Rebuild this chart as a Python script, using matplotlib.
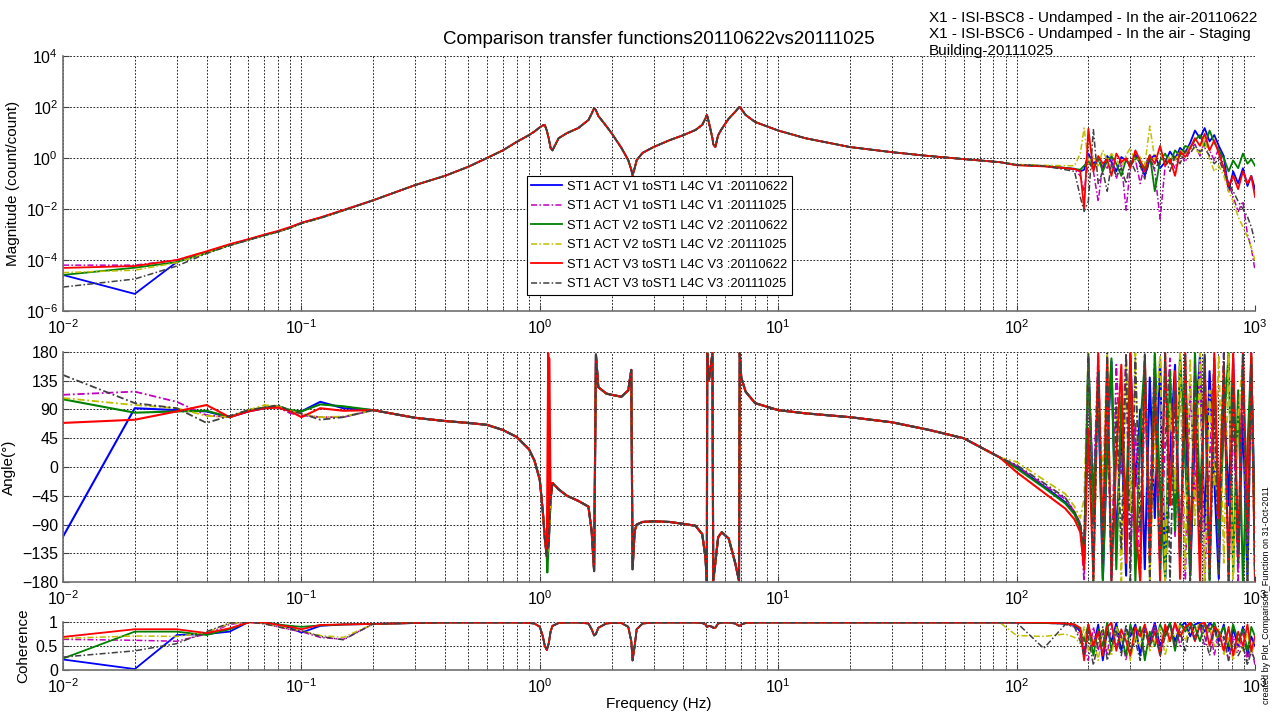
import numpy as np
import matplotlib
matplotlib.use('Agg')
import matplotlib.pyplot as plt
from matplotlib.ticker import LogLocator, FixedLocator, NullFormatter

plt.rcParams['font.family'] = ['Liberation Sans', 'DejaVu Sans']
plt.rcParams['mathtext.fontset'] = 'custom'
plt.rcParams['mathtext.rm'] = 'Liberation Sans'

# frequency grid (Hz)
freq_lo = [0.01, 0.02, 0.03, 0.04, 0.05, 0.06, 0.07, 0.08, 0.09, 0.1, 0.12, 0.15]
freq_mid = [0.2, 0.3, 0.4, 0.5, 0.6, 0.7, 0.8, 0.9, 0.95, 1.0, 1.03, 1.05, 1.07, 1.09, 1.11, 1.13,
            1.2, 1.3, 1.45, 1.6, 1.65, 1.69, 1.72, 1.76, 1.9, 2.0, 2.2, 2.35, 2.42, 2.45, 2.5, 2.55,
            2.7, 3.0, 3.5, 4.0, 4.5, 4.8, 4.95, 5.02, 5.04, 5.12, 5.3, 5.34, 5.45, 5.6, 5.8, 6.2,
            6.6, 6.85, 6.9, 7.0, 7.3, 8.0, 10, 13, 20, 30, 43, 60, 85]
freq_hi = [100, 130, 160, 175, 185, 192, 200, 210, 220, 230, 240, 250, 262, 275, 288, 300, 315,
           330, 345, 362, 380, 400, 420, 440, 462, 485, 510, 535, 560, 588, 615, 645, 675, 705,
           740, 775, 810, 850, 890, 930, 965, 1000]

# shared mid band (all six measurements overlap there)
mag_mid = [0.022, 0.087, 0.2, 0.45, 1.0, 2.0, 4.3, 7.9, 11, 16, 19, 19.5, 12, 6, 2.5, 2.0,
           6.0, 9.5, 15, 31, 55, 91, 75, 45, 18, 9.5, 2.5, 0.83, 0.35, 0.21, 0.4, 0.83,
           1.6, 2.7, 5.0, 7.9, 12.6, 20, 35, 49, 45, 25, 6, 3.5, 2.7, 7.9, 14, 35,
           65, 98, 100, 85, 49, 26, 12, 6.0, 2.7, 1.7, 1.2, 0.91, 0.69]
phase_mid = [89, 77, 72, 69, 66, 58, 47, 28, 10, -20, -70, -112, -140, -120, -50, -25,
             -35, -45, -53, -62, -100, -163, 176, 125, 115, 113, 110, 120, 152, -160, -100, -90,
             -86, -85, -86, -89, -92, -105, -140, -178, 178, 135, 178, -178, -150, -110, -102, -112,
             -150, -178, 178, 140, 118, 100, 89, 84, 78, 70, 58, 45, 15]
coh_mid = [0.96, 0.98, 0.99, 0.99, 0.99, 0.99, 0.99, 0.98, 0.97, 0.9, 0.7, 0.5, 0.42, 0.55, 0.8, 0.92,
           0.98, 0.99, 0.99, 0.97, 0.85, 0.72, 0.75, 0.88, 0.97, 0.98, 0.98, 0.9, 0.6, 0.2, 0.5, 0.85,
           0.97, 0.99, 0.99, 0.99, 0.99, 0.98, 0.95, 0.9, 0.9, 0.92, 0.9, 0.88, 0.88, 0.97, 0.99, 0.99,
           0.97, 0.92, 0.92, 0.95, 0.98, 0.99, 0.99, 0.99, 0.99, 0.99, 0.99, 0.99, 0.99]

labels = ['ST1 ACT V1 toST1 L4C V1 :20110622', 'ST1 ACT V1 toST1 L4C V1 :20111025',
          'ST1 ACT V2 toST1 L4C V2 :20110622', 'ST1 ACT V2 toST1 L4C V2 :20111025',
          'ST1 ACT V3 toST1 L4C V3 :20110622', 'ST1 ACT V3 toST1 L4C V3 :20111025']
colors = ['#0000ff', '#bf00bf', '#008000', '#bfbf00', '#ff0000', '#404040']
styles = ['-', (0, (4, 1.5, 1, 1.5)), '-', (0, (4, 1.5, 1, 1.5)), '-', (0, (4, 1.5, 1, 1.5))]

mag_lo = [
    [2.6e-5, 4.7e-6, 8.3e-5, 2.0e-4, 3.9e-4, 6.3e-4, 9.5e-4, 1.3e-3, 1.9e-3, 2.8e-3, 4.5e-3, 8.9e-3],
    [6.3e-5, 6.3e-5, 1.0e-4, 2.1e-4, 4.0e-4, 6.5e-4, 9.8e-4, 1.35e-3, 1.9e-3, 2.9e-3, 4.6e-3, 9.0e-3],
    [2.6e-5, 5.0e-5, 8.3e-5, 1.9e-4, 3.8e-4, 6.2e-4, 9.4e-4, 1.3e-3, 1.85e-3, 2.8e-3, 4.5e-3, 8.8e-3],
    [3.2e-5, 4.0e-5, 7.9e-5, 1.9e-4, 3.8e-4, 6.2e-4, 9.3e-4, 1.3e-3, 1.85e-3, 2.75e-3, 4.4e-3, 8.7e-3],
    [4.9e-5, 5.8e-5, 1.0e-4, 2.2e-4, 4.2e-4, 6.6e-4, 1.0e-3, 1.4e-3, 2.0e-3, 2.9e-3, 4.7e-3, 9.2e-3],
    [8.7e-6, 1.8e-5, 5.8e-5, 1.8e-4, 3.7e-4, 6.1e-4, 9.2e-4, 1.3e-3, 1.8e-3, 2.7e-3, 4.4e-3, 8.7e-3],
]
mag_hi = [
    [0.54, 0.49, 0.41, 0.38, 0.3, 0.35, 1.5, 0.6, 0.9, 0.4, 1.2, 0.7, 0.3, 1.1, 0.8, 0.5, 1.4, 0.6, 0.2,
     0.9, 1.3, 0.4, 0.7, 1.8, 0.9, 2.5, 1.6, 4.0, 12, 6.0, 15, 4.5, 8.0, 3.0, 1.2, 0.05, 0.3, 0.1,
     0.4, 0.08, 0.2, 0.06],
    [0.54, 0.49, 0.41, 0.36, 0.2, 0.05, 0.8, 0.3, 0.02, 0.6, 0.4, 1.1, 0.15, 0.7, 0.009, 0.5, 0.9, 0.1,
     0.6, 1.2, 0.3, 0.004, 0.5, 1.0, 0.4, 1.5, 0.7, 2.2, 3.5, 1.2, 5.0, 2.0, 0.8, 2.5, 0.5, 0.1, 0.03,
     0.008, 0.02, 0.001, 3e-4, 4e-5],
    [0.54, 0.49, 0.41, 0.37, 0.35, 0.5, 0.7, 0.4, 1.0, 0.3, 0.8, 1.2, 0.6, 0.2, 0.9, 0.5, 1.1, 0.7, 0.4,
     1.3, 0.05, 0.8, 1.5, 0.6, 2.0, 1.2, 3.0, 2.5, 5.0, 8.0, 3.0, 12, 4.0, 2.0, 1.0, 0.3, 0.8, 0.4,
     1.5, 0.6, 0.9, 0.5],
    [0.56, 0.52, 0.5, 0.5, 1.5, 15, 0.6, 1.2, 0.5, 2.0, 0.8, 1.5, 0.9, 0.4, 1.3, 2.5, 0.7, 1.1, 0.5,
     18, 0.9, 1.6, 0.6, 1.2, 0.8, 2.0, 1.4, 3.0, 2.2, 1.5, 6.0, 0.9, 0.3, 0.5, 0.2, 0.05, 0.02, 0.005,
     0.002, 8e-4, 3e-4, 1e-4],
    [0.52, 0.47, 0.4, 0.37, 0.3, 0.01, 14, 0.3, 1.2, 0.6, 0.9, 0.2, 1.5, 0.7, 1.0, 0.4, 2.0, 0.8, 0.3,
     1.3, 0.6, 3.0, 0.5, 0.9, 0.2, 1.8, 1.1, 2.5, 6.0, 3.0, 9.0, 2.0, 5.0, 1.5, 0.4, 0.08, 0.2, 0.06,
     0.3, 0.1, 0.2, 0.03],
    [0.54, 0.49, 0.35, 0.3, 0.03, 0.008, 0.02, 13, 0.1, 0.3, 0.05, 0.6, 0.2, 0.4, 0.1, 0.8, 0.3, 0.5,
     0.15, 0.9, 0.4, 0.7, 1.0, 0.3, 1.2, 0.6, 2.0, 1.5, 3.0, 1.8, 2.5, 1.2, 0.6, 0.9, 0.3, 0.1, 0.05,
     0.02, 0.01, 0.005, 0.002, 5e-4],
]

phase_lo = [
    [-109, 92, 89, 87, 78, 87, 92, 95, 88, 87, 102, 92],
    [113, 118, 102, 81, 78, 89, 93, 93, 84, 81, 78, 78],
    [106, 85, 87, 88, 78, 89, 93, 95, 89, 87, 98, 95],
    [108, 97, 92, 80, 78, 89, 97, 95, 88, 83, 78, 79],
    [69, 74, 87, 97, 78, 87, 92, 93, 87, 78, 92, 88],
    [144, 100, 92, 69, 80, 89, 93, 97, 87, 84, 74, 78],
]
phase_hi = [
    [0, -30, -55, -72, -92, -150, 170, -60, 120, -175, 30, 165, -120, 60, -170, 175, -30, 90, -160,
     140, -80, 170, -175, 20, 160, -140, 100, -170, 50, 175, -100, 150, -20, -175, 130, -60, 170,
     -150, 80, -178, 160, -90],
    [2, -28, -50, -70, -88, -178, 150, -40, 175, -130, 95, -170, 160, -10, 178, -150, 70, -178, 120,
     -60, 175, -165, 40, 170, -110, 178, -175, 130, -50, 165, -178, 10, 170, -140, 178, -170, 90,
     -178, 150, -120, 178, -178],
    [-2, -32, -57, -74, -95, -140, 175, -90, 150, -178, 40, 170, -160, 110, -70, 178, -178, 60, 165,
     -130, 178, -40, -175, 150, -100, 175, 10, -170, 178, -60, 140, -178, 170, -110, 60, 178, -165,
     120, -178, 30, 175, -120],
    [8, -20, -42, -62, -80, -50, 178, -178, 130, -20, 175, -150, 90, -178, 160, -70, 178, -120, 150,
     -178, 60, 175, -178, 100, -40, 178, -160, 170, -90, 178, -178, 120, -30, 175, -150, 178, -178,
     80, 170, -178, 140, -170],
    [-8, -40, -65, -82, -102, -160, 60, -175, 178, -120, 170, -178, 20, 160, -150, 178, -90, -178,
     175, -140, 130, -178, 178, -60, 150, -175, 178, -130, 100, -178, 175, -160, 178, -80, 160, -178,
     178, -140, 178, -100, 178, -178],
    [3, -25, -48, -70, -90, -120, 178, -178, 150, -150, 178, -178, 100, -130, 178, -178, 170, -100,
     178, -178, 140, -160, 178, -178, 120, -140, 178, -178, 160, -120, 178, -178, 90, -170, 178, -178,
     130, -150, 178, -178, 160, -178],
]
# extra phase points seen on single traces around the 1.07 Hz mode
phase_extra_f = [[], [], [1.075], [], [1.085, 1.095], []]
phase_extra = [[], [], [-165], [], [178, 170], []]

coh_lo = [
    [0.22, 0.02, 0.73, 0.75, 0.8, 1.0, 0.99, 0.95, 0.88, 0.78, 0.92, 0.95],
    [0.64, 0.62, 0.6, 0.75, 0.95, 1.0, 0.97, 0.9, 0.84, 0.8, 0.68, 0.64],
    [0.24, 0.8, 0.8, 0.73, 0.85, 1.0, 0.99, 0.95, 0.92, 0.9, 0.93, 0.95],
    [0.66, 0.71, 0.7, 0.78, 0.97, 1.0, 0.97, 0.92, 0.86, 0.82, 0.72, 0.68],
    [0.69, 0.85, 0.85, 0.77, 0.87, 0.99, 0.99, 0.94, 0.9, 0.85, 0.94, 0.95],
    [0.27, 0.4, 0.55, 0.8, 0.98, 1.0, 0.96, 0.9, 0.85, 0.82, 0.7, 0.63],
]
coh_hi = [
    [0.99, 0.98, 0.97, 0.94, 0.8, 0.3, 0.9, 0.5, 0.95, 0.2, 0.8, 0.6, 0.98, 0.4, 0.85, 0.7, 0.95, 0.3,
     0.9, 0.6, 0.99, 0.5, 0.8, 0.97, 0.6, 0.9, 0.99, 0.7, 0.95, 0.99, 0.8, 0.98, 0.9, 0.6, 0.95, 0.4,
     0.85, 0.5, 0.9, 0.3, 0.7, 0.5],
    [0.99, 0.98, 0.96, 0.9, 0.7, 0.5, 0.2, 0.9, 0.4, 0.8, 0.3, 0.95, 0.5, 0.7, 0.2, 0.9, 0.6, 0.85,
     0.3, 0.7, 0.95, 0.4, 0.9, 0.6, 0.98, 0.5, 0.9, 0.99, 0.7, 0.9, 0.5, 0.95, 0.3, 0.8, 0.6, 0.2,
     0.7, 0.4, 0.8, 0.2, 0.5, 0.1],
    [0.99, 0.98, 0.97, 0.95, 0.85, 0.6, 0.95, 0.3, 0.85, 0.5, 0.99, 0.4, 0.9, 0.7, 0.3, 0.95, 0.6,
     0.9, 0.2, 0.8, 0.5, 0.95, 0.7, 0.99, 0.4, 0.97, 0.8, 0.99, 0.9, 0.6, 0.98, 0.8, 0.99, 0.7, 0.9,
     0.5, 0.95, 0.6, 0.85, 0.4, 0.9, 0.7],
    [0.72, 0.7, 0.75, 0.68, 0.55, 0.9, 0.4, 0.7, 0.2, 0.85, 0.5, 0.3, 0.9, 0.6, 0.8, 0.2, 0.7, 0.5,
     0.95, 0.4, 0.6, 0.9, 0.3, 0.8, 0.7, 0.95, 0.6, 0.9, 0.8, 0.99, 0.7, 0.9, 0.5, 0.85, 0.3, 0.7,
     0.2, 0.6, 0.4, 0.8, 0.3, 0.6],
    [0.99, 0.99, 0.97, 0.95, 0.88, 0.2, 0.95, 0.5, 0.8, 0.3, 0.9, 0.99, 0.4, 0.85, 0.6, 0.3, 0.9, 0.7,
     0.95, 0.5, 0.8, 0.3, 0.95, 0.6, 0.99, 0.7, 0.9, 0.98, 0.6, 0.95, 0.99, 0.5, 0.9, 0.8, 0.4, 0.9,
     0.3, 0.8, 0.5, 0.95, 0.4, 0.7],
    [0.99, 0.45, 0.95, 0.9, 0.6, 0.3, 0.7, 0.1, 0.6, 0.9, 0.2, 0.5, 0.8, 0.3, 0.95, 0.4, 0.6, 0.2,
     0.8, 0.5, 0.9, 0.3, 0.7, 0.95, 0.5, 0.8, 0.4, 0.9, 0.6, 0.95, 0.7, 0.3, 0.85, 0.5, 0.7, 0.2,
     0.6, 0.3, 0.5, 0.1, 0.4, 0.2],
]


def style_axis(ax):
    ax.set_xscale('log')
    ax.set_xlim(0.01, 1000)
    ax.xaxis.set_major_locator(LogLocator(base=10, numticks=10))
    ax.xaxis.set_minor_locator(LogLocator(base=10, subs=np.arange(2, 10), numticks=20))
    ax.xaxis.set_minor_formatter(NullFormatter())
    ax.grid(True, which='major', axis='both', color='k', linestyle=(0, (2, 2)), linewidth=0.6)
    ax.grid(True, which='minor', axis='x', color='k', linestyle=(0, (2, 2)), linewidth=0.6)
    ax.tick_params(which='both', direction='in', labelsize=11.5, color='#404040')
    ax.tick_params(which='major', length=4)
    ax.tick_params(which='minor', length=2)
    ax.tick_params(axis='x', which='major', pad=5)
    for s in ['top', 'right']:
        ax.spines[s].set_visible(False)
    for s in ['left', 'bottom']:
        ax.spines[s].set_color('#707070')
        ax.spines[s].set_linewidth(1.2)
    ax.set_axisbelow(True)


fig = plt.figure(figsize=(12.75, 7.15), dpi=100)
ax1 = fig.add_axes([0.0494, 0.565, 0.9349, 0.3566])
ax2 = fig.add_axes([0.0494, 0.186, 0.9349, 0.3217])
ax3 = fig.add_axes([0.0494, 0.0629, 0.9349, 0.0671])

for i in range(6):
    f = np.array(freq_lo + freq_mid + freq_hi)
    mag = np.array(mag_lo[i] + mag_mid + mag_hi[i])
    coh = np.array(coh_lo[i] + coh_mid + coh_hi[i])
    fp = np.array(freq_lo + freq_mid + freq_hi + phase_extra_f[i])
    ph = np.array(phase_lo[i] + phase_mid + phase_hi[i] + phase_extra[i])
    order = np.argsort(fp, kind='stable')
    lw = 1.3 if styles[i] == '-' else 1.1
    ax1.plot(f, mag, color=colors[i], linestyle=styles[i], linewidth=lw, label=labels[i])
    ax2.plot(fp[order], ph[order], color=colors[i], linestyle=styles[i], linewidth=lw + 0.2)
    ax3.plot(f, coh, color=colors[i], linestyle=styles[i], linewidth=lw)

style_axis(ax1)
ax1.set_yscale('log')
ax1.set_ylim(1e-6, 1e4)
ax1.yaxis.set_major_locator(FixedLocator([1e-6, 1e-4, 1e-2, 1e0, 1e2, 1e4]))
ax1.yaxis.set_minor_locator(FixedLocator([]))
ax1.set_ylabel('Magnitude (count/count)', fontsize=11)
ax1.set_title('Comparison transfer functions20110622vs20111025', fontsize=13.5, pad=9)
leg = ax1.legend(loc='upper left', bbox_to_anchor=(0.389, 0.529), borderaxespad=0, fontsize=9.3,
                 handlelength=2.4, labelspacing=0.58, fancybox=False, framealpha=1,
                 edgecolor='k', borderpad=0.35, handletextpad=0.4)
leg.get_frame().set_linewidth(0.8)

style_axis(ax2)
ax2.set_ylim(-180, 180)
ax2.set_yticks(np.arange(-180, 181, 45))
ax2.set_ylabel('Angle(°)', fontsize=11)

style_axis(ax3)
ax3.set_ylim(0, 1)
ax3.set_yticks([0, 0.5, 1])
ax3.set_yticklabels(['0', '0.5', '1'])
ax3.set_ylabel('Coherence', fontsize=11)
ax3.set_xlabel('Frequency (Hz)', fontsize=11, labelpad=1)

fig.text(0.7285, 0.985, 'X1 - ISI-BSC8 - Undamped - In the air-20110622\n'
         'X1 - ISI-BSC6 - Undamped - In the air - Staging\nBuilding-20111025',
         ha='left', va='top', fontsize=11, linespacing=1.25)
fig.text(0.9935, 0.015, 'created by Plot_Comparison_Function on 31-Oct-2011', rotation=90,
         ha='center', va='bottom', fontsize=6.5)

fig.savefig('out.png', dpi=100)
